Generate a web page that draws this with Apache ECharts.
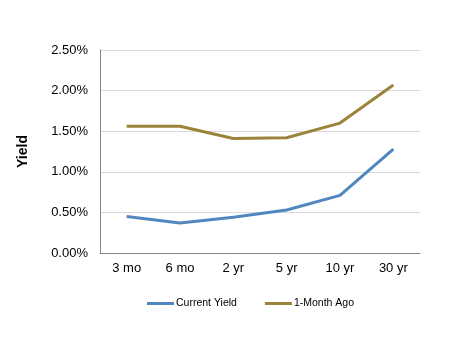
<!DOCTYPE html>
<html>
<head>
<meta charset="utf-8">
<script src="https://cdn.jsdelivr.net/npm/echarts@6/dist/echarts.min.js"></script>
<style>
  html, body { margin: 0; padding: 0; background: #fff; }
  #chart { width: 450px; height: 341px; }
</style>
</head>
<body>
<div id="chart"></div>
<script>
// Treasury yield curve: maturities and yields (%)
const maturities = ['3 mo', '6 mo', '2 yr', '5 yr', '10 yr', '30 yr'];
const currentYield = [0.45, 0.37, 0.44, 0.53, 0.71, 1.28];
const monthAgo = [1.56, 1.56, 1.41, 1.42, 1.60, 2.07];
const yTicks = [0, 0.5, 1.0, 1.5, 2.0, 2.5];

const font = 'Arial, "Liberation Sans", sans-serif';
const chart = echarts.init(document.getElementById('chart'), null, { renderer: 'canvas' });

chart.setOption({
  animation: false,
  grid: { left: 100, right: 30, top: 50, bottom: 88 },
  legend: {
    left: 142,
    top: 293,
    itemWidth: 27,
    itemHeight: 3,
    itemGap: 28,
    icon: 'rect',
    textStyle: { fontFamily: font, fontSize: 10.5, color: '#000', padding: [0, 0, 0, -3] },
    data: ['Current Yield', '1-Month Ago']
  },
  xAxis: {
    type: 'category',
    data: maturities,
    boundaryGap: true,
    axisLine: { lineStyle: { color: '#868686', width: 1 } },
    axisTick: { show: false },
    axisLabel: { fontFamily: font, fontSize: 13, color: '#000', margin: 9 }
  },
  yAxis: {
    type: 'value',
    min: yTicks[0],
    max: yTicks[yTicks.length - 1],
    interval: 0.5,
    name: 'Yield',
    nameLocation: 'middle',
    nameGap: 70,
    nameTextStyle: { fontFamily: font, fontSize: 14, fontWeight: 'bold', color: '#000' },
    axisLine: { show: true, lineStyle: { color: '#868686', width: 1 } },
    axisTick: { show: false },
    splitLine: { lineStyle: { color: '#d9d9d9', width: 1 } },
    axisLabel: {
      fontFamily: font, fontSize: 13, color: '#000', margin: 12,
      formatter: v => v.toFixed(2) + '%'
    }
  },
  series: [
    {
      name: 'Current Yield',
      type: 'line',
      data: currentYield,
      symbol: 'none',
      lineStyle: { color: '#5087bf', width: 3 },
      itemStyle: { color: '#5087bf' }
    },
    {
      name: '1-Month Ago',
      type: 'line',
      data: monthAgo,
      symbol: 'none',
      lineStyle: { color: '#9b8439', width: 3 },
      itemStyle: { color: '#9b8439' }
    }
  ]
});
</script>
</body>
</html>
